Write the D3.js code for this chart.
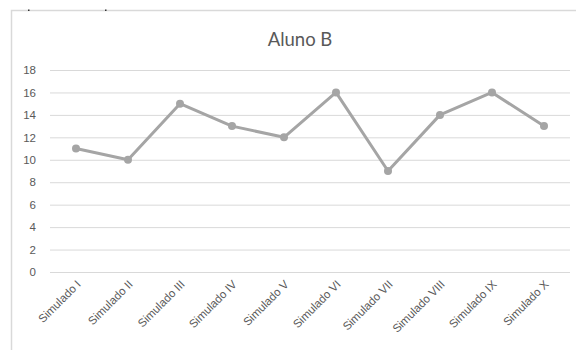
<!DOCTYPE html>
<html>
<head>
<meta charset="utf-8">
<script src="https://cdn.jsdelivr.net/npm/d3@7"></script>
<style>
    body { margin: 0; background: #fff; overflow: hidden; }
    svg { display: block; font-family: Lato, "Open Sans", sans-serif; }
    .grid line { stroke: #d9d9d9; stroke-width: 1; }
    .grid path { display: none; }
    .axis path, .axis line { display: none; }
    .axis text { fill: #595959; font-size: 11.5px; }
</style>
</head>
<body>
<div id="chart"></div>
<script>
    // Data.
const categories = ["Simulado I", "Simulado II", "Simulado III", "Simulado IV", "Simulado V",
    "Simulado VI", "Simulado VII", "Simulado VIII", "Simulado IX", "Simulado X"];
const scores = [11, 10, 15, 13, 12, 16, 9, 14, 16, 13];
const yTicks = [0, 2, 4, 6, 8, 10, 12, 14, 16, 18];

const width = 576, height = 350;
const margin = { top: 70, right: 6, bottom: 78, left: 50 };
const innerWidth = width - margin.left - margin.right;
const innerHeight = 272 - margin.top;

const svg = d3.select("#chart").append("svg")
    .attr("width", width)
    .attr("height", height);

    // Chart frame (only left and top border are in view).
svg.append("path")
    .attr("d", `M11.5,${height} V10.5 H${width}`)
    .attr("fill", "none")
    .attr("stroke", "#d9d9d9")
    .attr("stroke-width", 1.5);

    // Two small dark specks sitting on the top border.
svg.selectAll(".speck")
    .data([28, 105])
    .join("rect")
    .attr("x", d => d)
    .attr("y", 9.5)
    .attr("width", 1.5)
    .attr("height", 1.5)
    .attr("fill", "#333");

const chart = svg.append("g")
    .attr("transform", `translate(${margin.left},${margin.top})`);

const x = d3.scalePoint()
    .domain(categories)
    .range([0, innerWidth])
    .padding(0.5);

const y = d3.scaleLinear()
    .domain([0, 18])
    .range([innerHeight, 0]);

chart.append("g")
    .attr("class", "grid")
    .call(d3.axisLeft(y).tickValues(yTicks).tickSize(-innerWidth).tickFormat(""));

chart.append("g")
    .attr("class", "axis")
    .call(d3.axisLeft(y).tickValues(yTicks).tickSize(0).tickPadding(14));

const xAxis = chart.append("g")
    .attr("class", "axis")
    .attr("transform", `translate(0,${innerHeight})`)
    .call(d3.axisBottom(x).tickSize(0));

xAxis.selectAll("text")
    .attr("text-anchor", "end")
    .attr("dy", null)
    .attr("y", 0)
    .attr("transform", "translate(5,13) rotate(-45)");

const line = d3.line()
    .x((d, i) => x(categories[i]))
    .y(d => y(d));

chart.append("path")
    .datum(scores)
    .attr("d", line)
    .attr("fill", "none")
    .attr("stroke", "#a5a5a5")
    .attr("stroke-width", 3)
    .attr("stroke-linejoin", "round");

chart.selectAll(".dot")
    .data(scores)
    .join("circle")
    .attr("class", "dot")
    .attr("cx", (d, i) => x(categories[i]))
    .attr("cy", d => y(d))
    .attr("r", 4)
    .attr("fill", "#a5a5a5");

svg.append("text")
    .attr("x", 300)
    .attr("y", 46)
    .attr("text-anchor", "middle")
    .attr("fill", "#595959")
    .attr("font-size", "18.5px")
    .text("Aluno B");
</script>
</body>
</html>
